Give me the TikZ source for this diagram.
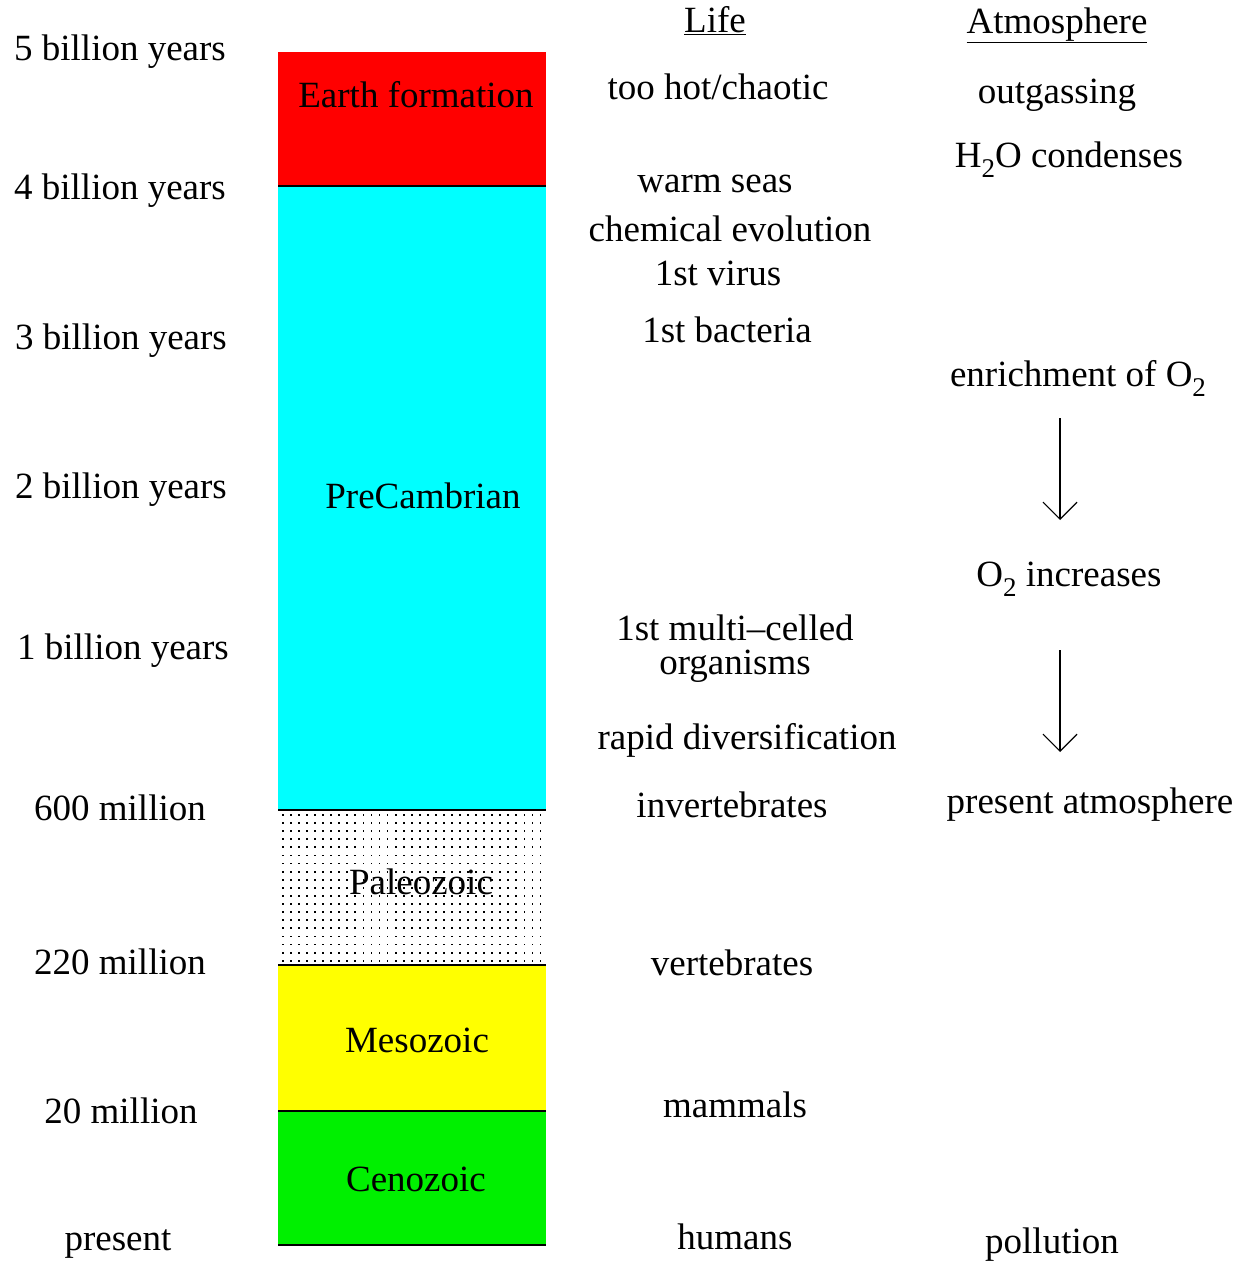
\documentclass[tikz,border=0pt]{standalone}
\usepackage{fontspec}
\setmainfont{Liberation Serif}
\usetikzlibrary{arrows.meta}
\definecolor{eraRed}{RGB}{255,0,0}
\definecolor{eraCyan}{RGB}{0,255,255}
\definecolor{eraYellow}{RGB}{255,255,0}
\definecolor{eraGreen}{RGB}{0,240,0}
\newcommand{\subtwo}{\raisebox{-0.28em}{\fontsize{27}{27}\selectfont 2}}
\begin{document}
\begin{tikzpicture}[x=1pt,y=-1pt,
  txt/.style={inner sep=0pt, anchor=base, font=\fontsize{37}{44}\selectfont},
  eraline/.style={line width=2pt},
  arr/.style={line width=1.2pt, -{Straight Barb[length=17pt,width=34pt,line width=1.2pt]}}]
\useasboundingbox (0,0) rectangle (1247,1261);
% bars
\fill[eraRed] (278,52) rectangle (546,186);
\fill[eraCyan] (278,186) rectangle (546,810);
\foreach \i in {0,...,32} {
  \foreach \j in {0,...,18} {
    \fill ({282+\i*8.05},{814+\j*8.1}) rectangle ++(1.8,1.8);
  }
}
\fill[eraYellow] (278,965) rectangle (546,1111);
\fill[eraGreen] (278,1111) rectangle (546,1245);
\foreach \yy in {186,810,965,1111,1245} \draw[eraline] (278,\yy) -- (546,\yy);
% era labels
\node[txt] (earth) at (416,107) {Earth formation};
\node[txt] (precamb) at (423,508) {PreCambrian};
\node[txt] (paleo) at (421,894) {Paleozoic};
\node[txt] (meso) at (417,1052) {Mesozoic};
\node[txt] (ceno) at (416,1191) {Cenozoic};
% time labels
\node[txt] (t5) at (120,60) {5 billion years};
\node[txt] (t4) at (120,199) {4 billion years};
\node[txt] (t3) at (121,349) {3 billion years};
\node[txt] (t2) at (121,498) {2 billion years};
\node[txt] (t1) at (123,659) {1 billion years};
\node[txt] (t600) at (120,820) {600 million};
\node[txt] (t220) at (120,974) {220 million};
\node[txt] (t20) at (121,1123) {20 million};
\node[txt] (tp) at (118,1250) {present};
% life
\node[txt] (life) at (715,32) {\underline{Life}};
\node[txt] (hot) at (718,99) {too hot/chaotic};
\node[txt] (warm) at (715,192) {warm seas};
\node[txt] (chem) at (730,241) {chemical evolution};
\node[txt] (virus) at (718,285) {1st virus};
\node[txt] (bact) at (727,342) {1st bacteria};
\node[txt, anchor=center, align=center, font=\fontsize{37}{34}\selectfont] (multi) at (735,649) {1st multi\textendash celled\\organisms};
\node[txt] (rapid) at (747,749) {rapid diversification};
\node[txt] (invert) at (732,817) {invertebrates};
\node[txt] (vert) at (732,975) {vertebrates};
\node[txt] (mamm) at (735,1117) {mammals};
\node[txt] (hum) at (735,1249) {humans};
% atmosphere
\node[txt] (atm) at (1057,33) {\underline{Atmosphere}};
\node[txt] (outg) at (1057,103) {outgassing};
\node[txt] (h2o) at (1069,167) {H\subtwo O condenses};
\node[txt] (enrich) at (1078,386) {enrichment of O\subtwo};
\node[txt] (o2inc) at (1069,586) {O\subtwo\ increases};
\node[txt] (pres) at (1090,813) {present atmosphere};
\node[txt] (poll) at (1052,1253) {pollution};
% arrows
\coordinate (a1s) at (1060,418);
\coordinate (a1e) at (1060,520);
\coordinate (a2s) at (1060,650);
\coordinate (a2e) at (1060,752);
\draw[arr] (a1s) -- (a1e);
\draw[arr] (a2s) -- (a2e);
\end{tikzpicture}
\end{document}
